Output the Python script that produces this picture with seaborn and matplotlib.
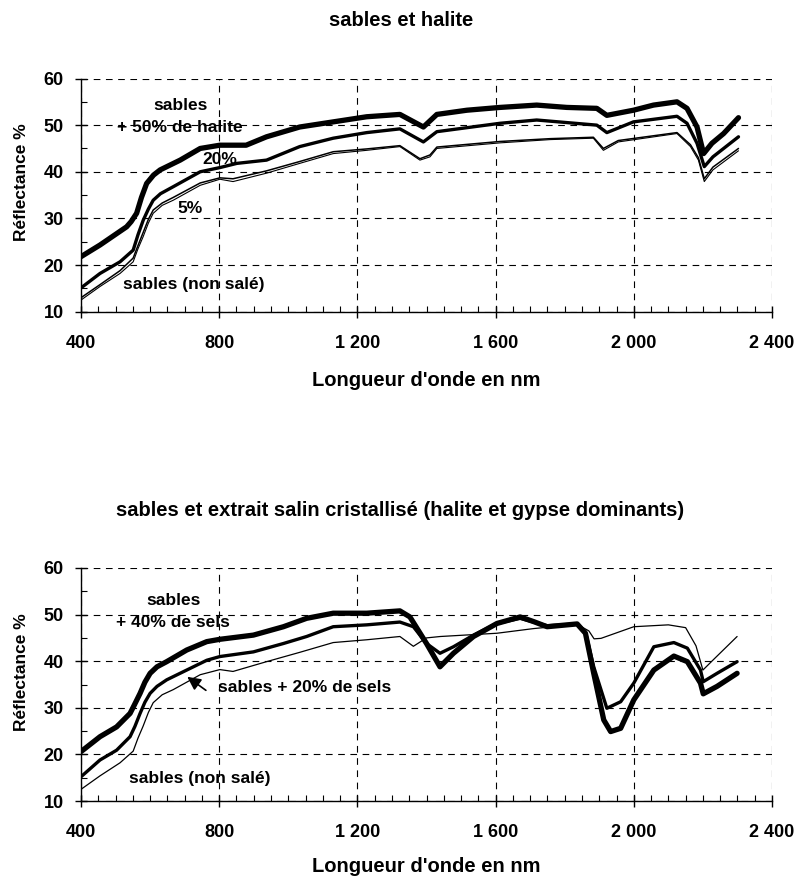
import matplotlib
matplotlib.use("Agg")
import matplotlib.pyplot as plt
from matplotlib.ticker import MultipleLocator, FuncFormatter
import seaborn as sns
import pandas as pd

# ---------------- data ----------------
# Top chart: sables et halite
wl_h50 = [400, 455, 532, 545, 561, 575, 590, 610, 629, 687, 745, 802, 878, 937, 1033, 1130,
          1227, 1323, 1391, 1430, 1517, 1613, 1719, 1806, 1893, 1922, 1999, 2057, 2125, 2154,
          2183, 2202, 2226, 2260, 2303]
r_h50 = [21.8, 24.3, 28.2, 29.3, 31.1, 34.5, 37.5, 39.3, 40.4, 42.5, 45.0, 45.7, 45.7, 47.5, 49.6, 50.7,
         51.8, 52.3, 49.6, 52.3, 53.2, 53.8, 54.3, 53.8, 53.6, 52.1, 53.2, 54.3, 55.0, 53.6,
         49.6, 43.9, 46.1, 48.2, 51.6]

wl_h20 = [400, 455, 513, 551, 565, 580, 595, 609, 630, 667, 745, 802, 851, 937, 1033, 1130,
          1227, 1323, 1391, 1430, 1613, 1719, 1893, 1922, 1999, 2125, 2154, 2183, 2204, 2229, 2303]
r_h20 = [15.1, 18.2, 20.7, 23.2, 26.5, 29.6, 32.0, 33.9, 35.3, 36.8, 40.0, 40.9, 41.8, 42.5, 45.4, 47.2,
         48.4, 49.2, 46.4, 48.6, 50.4, 51.1, 50.0, 48.4, 50.7, 51.9, 50.4, 46.1, 41.1, 43.2, 47.5]

wl_h05 = [400, 455, 513, 551, 565, 580, 595, 609, 635, 667, 745, 802, 840, 937, 1033, 1130,
          1227, 1323, 1381, 1410, 1430, 1613, 1758, 1883, 1912, 1955, 2125, 2164, 2187, 2204,
          2229, 2303]
r_h05 = [13.0, 15.8, 18.8, 21.5, 24.2, 27.0, 29.8, 31.8, 33.3, 34.5, 37.6, 38.7, 38.5, 40.2, 42.2, 44.3,
         44.9, 45.6, 42.8, 43.6, 45.3, 46.5, 47.1, 47.4, 45.0, 46.7, 48.4, 45.8, 43.0, 38.5,
         41.0, 45.0]

wl_h00 = [400, 455, 513, 551, 565, 580, 595, 609, 635, 667, 745, 802, 840, 937, 1033, 1130,
          1227, 1323, 1381, 1410, 1430, 1613, 1758, 1883, 1912, 1955, 2125, 2164, 2187, 2204,
          2229, 2303]
r_h00 = [12.5, 15.4, 18.2, 20.7, 23.5, 26.1, 29.0, 31.1, 32.8, 33.9, 37.1, 38.4, 37.9, 39.7, 41.8, 43.9,
         44.6, 45.4, 42.5, 43.2, 45.0, 46.2, 46.9, 47.2, 44.6, 46.4, 48.2, 45.4, 42.5, 37.9,
         40.4, 44.5]

# Bottom chart: sables et extrait salin cristallisé
wl_s40 = [400, 455, 503, 542, 555, 571, 585, 600, 620, 648, 706, 764, 802, 899, 986, 1053,
          1130, 1227, 1323, 1352, 1400, 1439, 1478, 1536, 1604, 1671, 1710, 1749, 1836, 1860,
          1884, 1913, 1933, 1962, 2000, 2058, 2116, 2155, 2193, 2201, 2241, 2299]
r_s40 = [20.6, 23.8, 25.9, 28.8, 30.7, 33.1, 35.5, 37.4, 38.8, 39.9, 42.4, 44.2, 44.7, 45.6, 47.4, 49.2,
         50.3, 50.3, 50.8, 49.5, 43.8, 38.8, 41.7, 45.3, 48.1, 49.5, 48.5, 47.4, 48.0, 46.0,
         37.4, 27.4, 24.9, 25.6, 31.7, 38.1, 41.1, 39.9, 35.3, 33.0, 34.6, 37.4]

wl_s20 = [400, 455, 503, 542, 556, 571, 585, 600, 620, 648, 706, 764, 802, 899, 986, 1053,
          1130, 1227, 1323, 1362, 1400, 1439, 1478, 1536, 1604, 1671, 1749, 1836, 1860, 1884,
          1922, 1962, 2000, 2058, 2116, 2155, 2193, 2201, 2241, 2299]
r_s20 = [15.2, 18.8, 20.9, 23.8, 26.0, 28.8, 31.2, 33.1, 34.6, 36.0, 38.1, 40.2, 41.0, 42.0, 43.8, 45.3,
         47.4, 47.8, 48.4, 47.4, 43.8, 41.7, 43.1, 45.6, 48.1, 49.2, 47.6, 48.0, 46.3, 38.8,
         29.9, 31.3, 35.3, 43.1, 44.0, 42.8, 38.1, 35.6, 37.4, 39.9]

wl_s00 = [400, 455, 513, 551, 565, 580, 595, 609, 635, 667, 745, 802, 840, 937, 1033, 1130,
          1227, 1323, 1362, 1400, 1440, 1604, 1710, 1836, 1870, 1885, 1905, 2000, 2100, 2150,
          2180, 2200, 2230, 2299]
r_s00 = [12.5, 15.4, 18.2, 20.7, 23.5, 26.1, 29.0, 31.1, 32.8, 33.9, 37.1, 38.2, 37.8, 39.9, 41.9, 44.0,
         44.6, 45.3, 43.2, 45.0, 45.3, 46.0, 47.0, 47.9, 46.5, 44.8, 44.9, 47.4, 47.8, 47.2,
         43.3, 38.1, 40.3, 45.3]

x_ticks = [400, 800, 1200, 1600, 2000, 2400]
y_ticks = [10, 20, 30, 40, 50, 60]

title_top = "sables et halite"
title_bottom = "sables et extrait salin cristallisé (halite et gypse dominants)"
xlabel = "Longueur d'onde en nm"
ylabel = "Réflectance %"

# ---------------- style ----------------
sns.set_style("white")
plt.rcParams['font.family'] = ['Liberation Sans', 'DejaVu Sans']
plt.rcParams['font.weight'] = 'bold'
plt.rcParams['text.color'] = 'black'

fig = plt.figure(figsize=(7.99, 8.76), dpi=100)
W, H = 799.0, 876.0


def axes_box(top_px, bot_px, left_px=81, right_px=772):
    return [left_px / W, 1 - bot_px / H, (right_px - left_px) / W, (bot_px - top_px) / H]


ax1 = fig.add_axes(axes_box(78.5, 311.7))
ax2 = fig.add_axes(axes_box(568, 801))


def fmt(v, pos):
    return f"{int(round(v)):,}".replace(",", " ")


def draw(ax, series):
    for wl, r, lw in series:
        df = pd.DataFrame({"wl": wl, "r": r})
        sns.lineplot(data=df, x="wl", y="r", ax=ax, color="black", linewidth=lw,
                     sort=False, estimator=None, legend=False)
    ax.set_xlim(400, 2400)
    ax.set_ylim(10, 60)
    ax.set_xticks(x_ticks)
    ax.set_yticks(y_ticks)
    ax.xaxis.set_minor_locator(MultipleLocator(50))
    ax.yaxis.set_minor_locator(MultipleLocator(5))
    ax.xaxis.set_major_formatter(FuncFormatter(fmt))
    ax.grid(True, which="major", color="black", linewidth=0.8, linestyle=(0, (6, 5)))
    ax.set_axisbelow(True)
    for s in ("top", "right"):
        ax.spines[s].set_visible(False)
    for s in ("left", "bottom"):
        ax.spines[s].set_color("black")
        ax.spines[s].set_linewidth(1.0)
    ax.tick_params(which="both", bottom=True, left=True, top=False, right=False)
    ax.tick_params(which="major", direction="inout", length=9, width=1, colors="black",
                   labelsize=13)
    ax.tick_params(which="minor", direction="in", length=4, width=0.8, colors="black")
    ax.tick_params(axis="x", which="major", pad=12)
    ax.tick_params(axis="y", which="major", pad=8)
    for lab in ax.get_xticklabels() + ax.get_yticklabels():
        lab.set_fontweight("bold")
    ax.set_xlabel("")
    ax.set_ylabel("")


draw(ax1, [(wl_h00, r_h00, 0.8), (wl_h05, r_h05, 1.1), (wl_h20, r_h20, 2.4), (wl_h50, r_h50, 3.8)])
draw(ax2, [(wl_s00, r_s00, 0.9), (wl_s20, r_s20, 2.4), (wl_s40, r_s40, 3.8)])

# annotations top
fs_ann = 12.5
kw = dict(fontsize=fs_ann, fontweight="bold", va="center")
ax1.text(687, 54.3, "sables", ha="center", **kw)
ax1.text(687, 49.6, "+ 50% de halite", ha="center", **kw)
ax1.text(802, 42.7, "20%", ha="center", **kw)
ax1.text(716, 32.1, "5%", ha="center", **kw)
ax1.text(725, 15.9, "sables (non salé)", ha="center", **kw)

# annotations bottom
ax2.text(667, 53.1, "sables", ha="center", **kw)
ax2.text(667, 48.3, "+ 40% de sels", ha="center", **kw)
ax2.text(797, 34.4, "sables + 20% de sels", ha="left", **kw)
ax2.annotate("", xy=(701, 37.0), xytext=(768, 33.4),
             arrowprops=dict(arrowstyle="-|>", color="black", lw=1.2, mutation_scale=20))
ax2.text(745, 14.8, "sables (non salé)", ha="center", **kw)

# titles and labels
cx = (81 + 772) / 2 / W
fig.text(401 / W, 1 - 21 / H, title_top, ha="center", va="center", fontsize=14.5,
         fontweight="bold")
fig.text(400 / W, 1 - 510 / H, title_bottom, ha="center", va="center", fontsize=14.5,
         fontweight="bold")
fig.text(cx, 1 - 380 / H, xlabel, ha="center", va="center", fontsize=14.5, fontweight="bold")
fig.text(cx, 1 - 867 / H, xlabel, ha="center", va="center", fontsize=14.5, fontweight="bold")
fig.text(22 / W, 1 - 182 / H, ylabel, ha="center", va="center", rotation=90, fontsize=12.5,
         fontweight="bold")
fig.text(22 / W, 1 - 672 / H, ylabel, ha="center", va="center", rotation=90, fontsize=12.5,
         fontweight="bold")

fig.savefig("out.png", dpi=100, facecolor="white")
